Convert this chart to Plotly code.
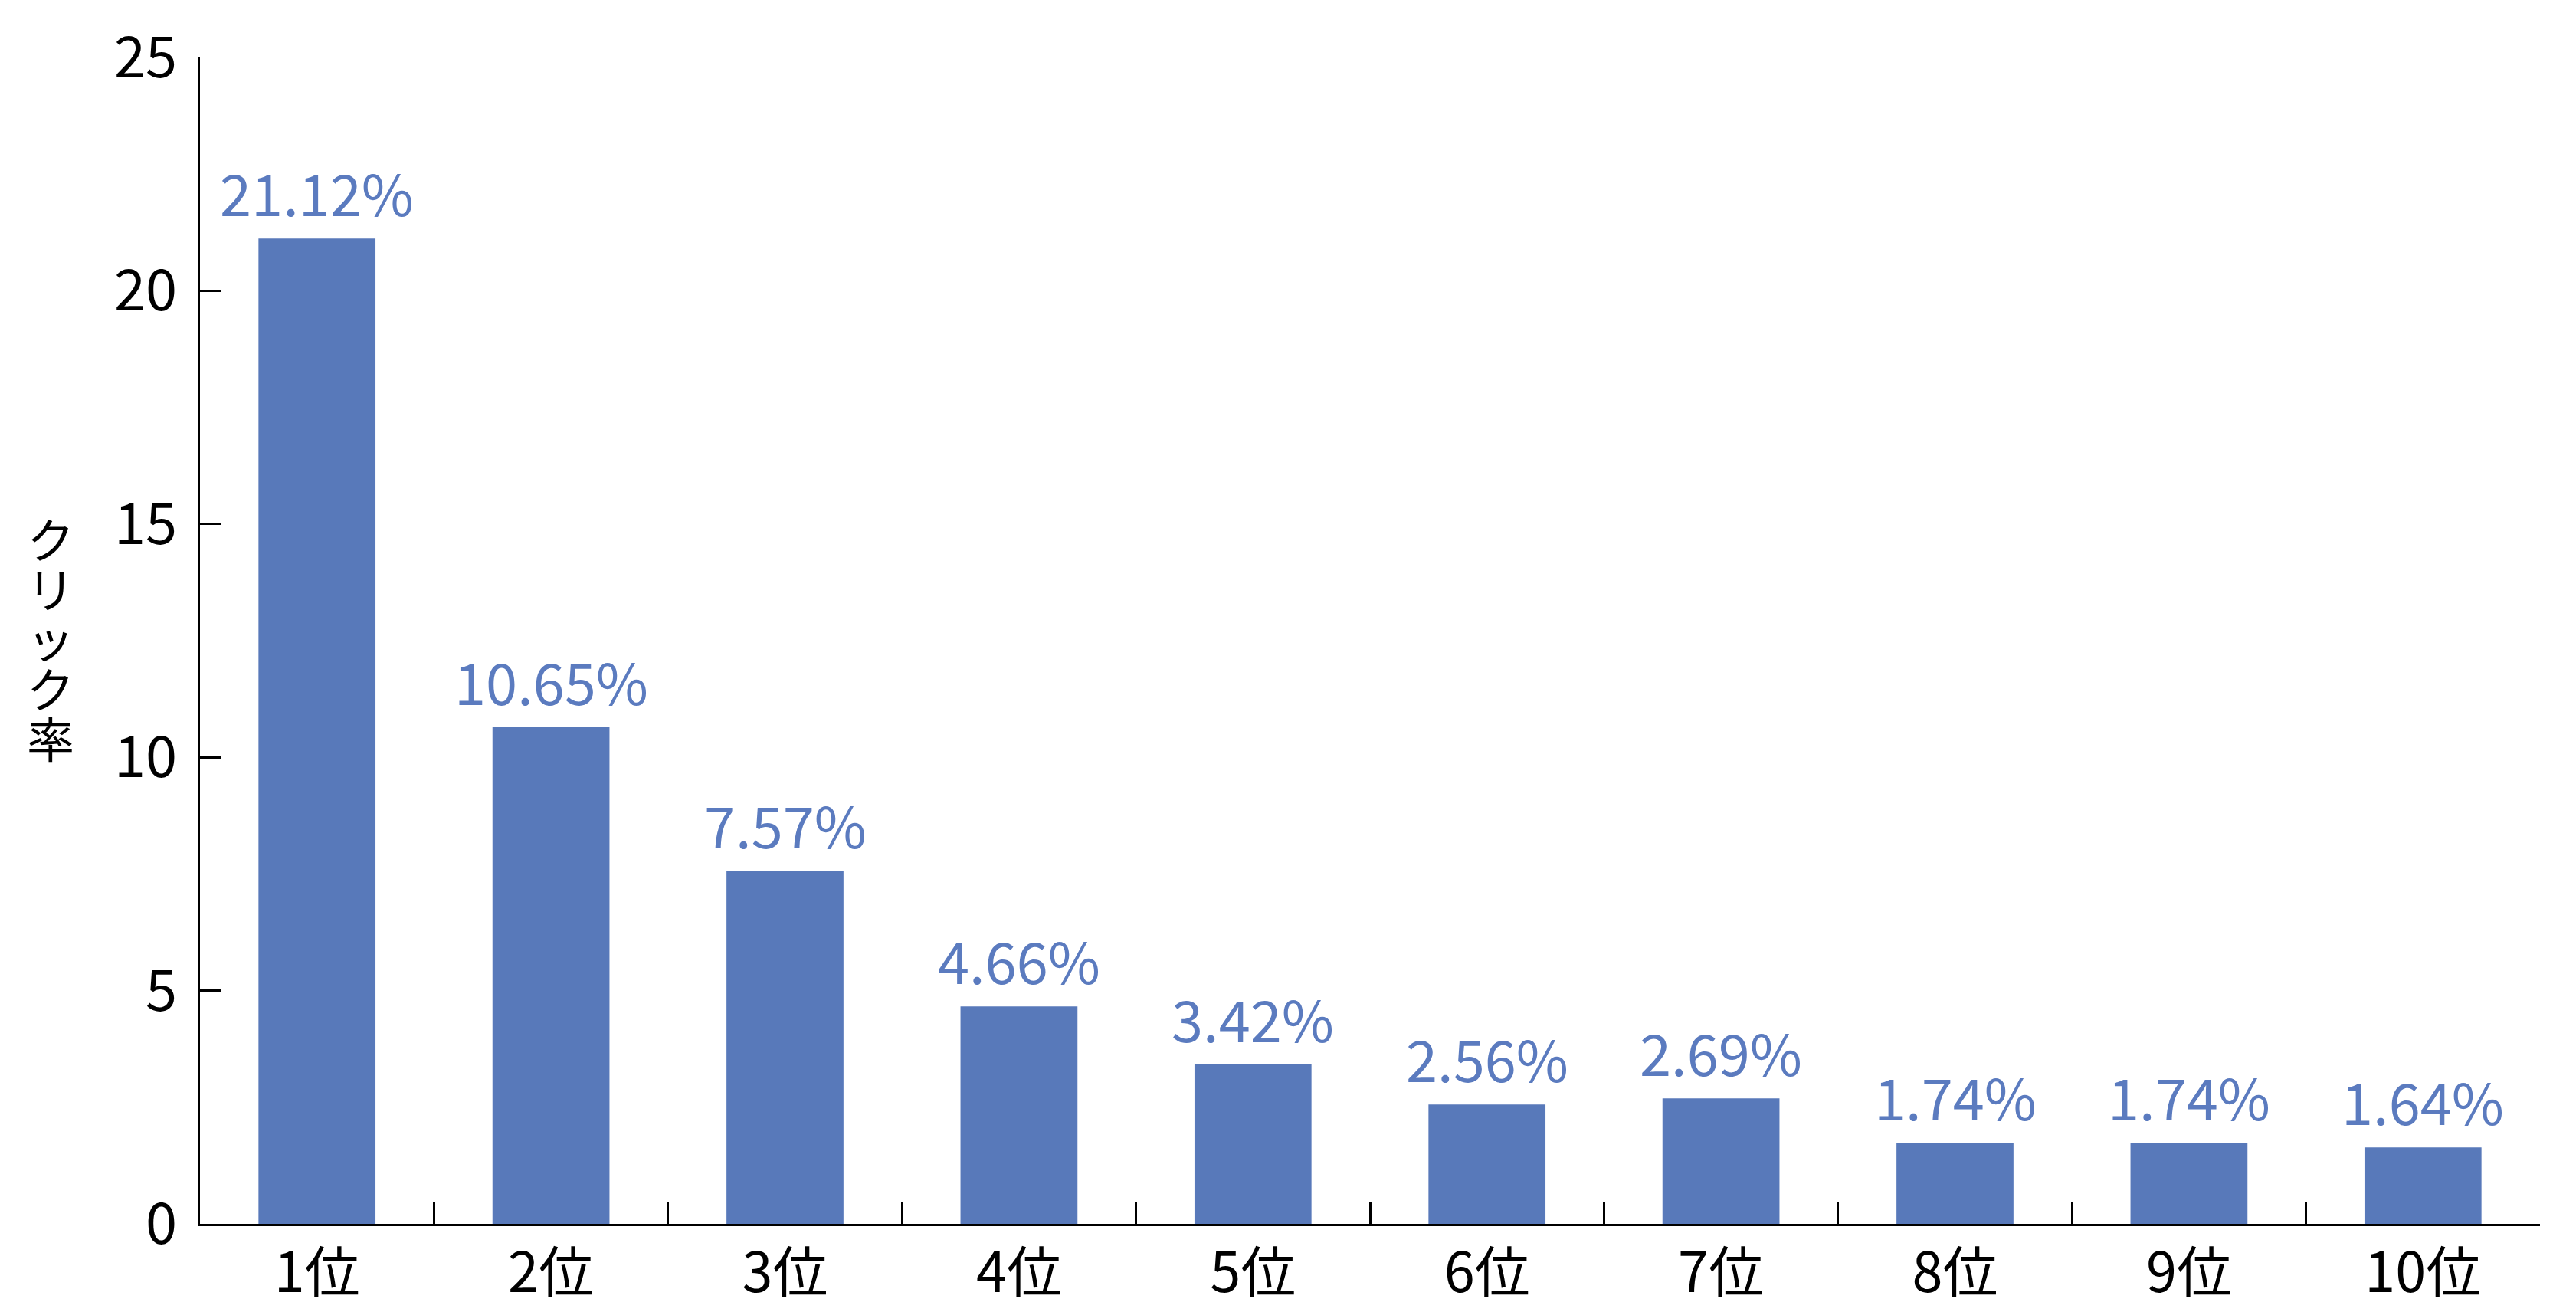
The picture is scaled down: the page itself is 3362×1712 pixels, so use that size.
import plotly.graph_objects as go

categories = ["1位", "2位", "3位", "4位", "5位", "6位", "7位", "8位", "9位", "10位"]
values = [21.12, 10.65, 7.57, 4.66, 3.42, 2.56, 2.69, 1.74, 1.74, 1.64]
labels = [f"{v:.2f}%" for v in values]
y_ticks = [0, 5, 10, 15, 20, 25]
y_title = "クリック率"

BAR = "#5879BA"
LABEL = "#5B7BBF"
FONT = "Noto Sans CJK JP"

fig = go.Figure(go.Bar(
    x=categories, y=values,
    marker=dict(color=BAR, line=dict(width=0)), width=0.5,
))

annotations = [
    dict(x=c, y=v, text=t, xref="x", yref="y", showarrow=False,
         xanchor="center", yanchor="bottom", yshift=6,
         font=dict(family=FONT, size=74, color=LABEL))
    for c, v, t in zip(categories, values, labels)
]
# vertical (stacked) y-axis title, one character per line
n = len(y_title)
for i, ch in enumerate(y_title):
    annotations.append(dict(
        text=ch, xref="paper", yref="paper",
        x=-0.064, y=0.5, xanchor="center", yanchor="middle", showarrow=False,
        yshift=(-(i - (n - 1) / 2) * 65) + 4,
        font=dict(family=FONT, size=62, color="black"),
    ))

fig.update_layout(
    width=3362, height=1712,
    margin=dict(l=253, r=55, t=67, b=123, autoexpand=False),
    paper_bgcolor="white", plot_bgcolor="white",
    showlegend=False,
    font=dict(family=FONT, color="black"),
    xaxis=dict(
        type="category", showline=True, linecolor="black", linewidth=3,
        ticks="inside", ticklen=28, tickwidth=3, tickcolor="black",
        tickson="boundaries", showgrid=False, automargin=False,
        tickfont=dict(family=FONT, size=72, color="black"),
        range=[-0.5, 9.5],
    ),
    yaxis=dict(
        range=[0, 25], tickvals=y_ticks, showline=True, linecolor="black", linewidth=3,
        ticks="inside", ticklen=28, tickwidth=3, tickcolor="black",
        showgrid=False, zeroline=False, automargin=False,
        tickfont=dict(family=FONT, size=74, color="black"),
        ticklabelstandoff=12,
    ),
    annotations=annotations,
)

fig.write_html("out.html")
